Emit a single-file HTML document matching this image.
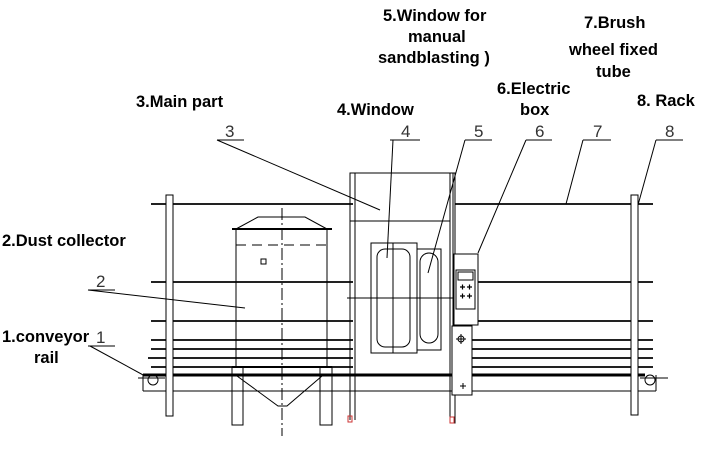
<!DOCTYPE html>
<html><head><meta charset="utf-8"><style>
html,body{margin:0;padding:0;background:#fff;}
svg{display:block;}
text{font-family:"Liberation Sans",Arial,sans-serif;font-weight:bold;font-size:16.5px;fill:#000;}
.n{font-weight:normal;font-size:17px;fill:#333;}
</style></head><body>
<svg width="721" height="453" viewBox="0 0 721 453" xmlns="http://www.w3.org/2000/svg">
<g stroke="#000" fill="none" stroke-width="1">
<g stroke="#222">
<line x1="151" y1="204" x2="353" y2="204" stroke-width="2"/>
<line x1="151" y1="282" x2="353" y2="282" stroke-width="2"/>
<line x1="151" y1="321" x2="353" y2="321" stroke-width="2"/>
<line x1="151" y1="340" x2="353" y2="340" stroke-width="2"/>
<line x1="151" y1="349" x2="353" y2="349" stroke-width="2"/>
<line x1="148" y1="358" x2="353" y2="358" stroke-width="2"/>
<line x1="151" y1="367" x2="353" y2="367" stroke-width="2"/>
<line x1="455" y1="204" x2="653" y2="204" stroke-width="2"/>
<line x1="478" y1="282" x2="653" y2="282" stroke-width="2"/>
<line x1="478" y1="321" x2="653" y2="321" stroke-width="2"/>
<line x1="472" y1="340" x2="653" y2="340" stroke-width="2"/>
<line x1="472" y1="349" x2="653" y2="349" stroke-width="2"/>
<line x1="472" y1="358" x2="653" y2="358" stroke-width="2"/>
<line x1="472" y1="367" x2="653" y2="367" stroke-width="2"/>
</g>
<line x1="143" y1="375" x2="645" y2="375" stroke-width="3"/>
<line x1="143" y1="391" x2="656" y2="391"/>
<line x1="143" y1="375" x2="143" y2="391"/>
<line x1="656" y1="375" x2="656" y2="391"/>
<circle cx="153" cy="380" r="5"/><circle cx="650" cy="380" r="5"/>
<line x1="138" y1="378" x2="165" y2="378"/><line x1="640" y1="378" x2="668" y2="378"/>
<rect x="166" y="195" width="7" height="221" fill="#fff"/>
<rect x="631" y="195" width="7" height="220" fill="#fff"/>
<polyline points="236,229 258,217 305,217 327,229"/>
<line x1="232" y1="229" x2="332" y2="229" stroke-width="2"/>
<line x1="236" y1="229" x2="236" y2="367"/>
<line x1="327" y1="229" x2="327" y2="367"/>
<line x1="236" y1="245" x2="327" y2="245" stroke-dasharray="10,6"/>
<rect x="261" y="259" width="5" height="5"/>
<line x1="232" y1="367" x2="332" y2="367" stroke-width="2"/>
<rect x="232" y="367" width="11" height="58"/>
<rect x="320" y="367" width="12" height="58"/>
<polyline points="237,376 278,406 287,406 322,376"/>
<line x1="282" y1="208" x2="282" y2="436" stroke-dasharray="12,3,2,3"/>
<rect x="350" y="173" width="103" height="218" fill="none"/>
<line x1="350" y1="221" x2="450" y2="221"/>
<line x1="450" y1="221" x2="450" y2="391"/>
<line x1="355" y1="173" x2="355" y2="420"/>
<line x1="350" y1="391" x2="350" y2="420"/>
<rect x="450" y="173" width="5" height="250"/>
<rect x="348" y="416" width="4" height="6" stroke="#c33"/>
<rect x="450" y="417" width="4" height="6" stroke="#c33"/>
<line x1="347" y1="298" x2="455" y2="298"/>
<rect x="371" y="243" width="46" height="110"/>
<rect x="377" y="249" width="33" height="98" rx="8"/>
<line x1="393" y1="243" x2="393" y2="353"/>
<rect x="417" y="249" width="24" height="101"/>
<rect x="420" y="253" width="18" height="90" rx="9"/>
<rect x="454" y="254" width="24" height="71" fill="#fff"/>
<rect x="456" y="270" width="19" height="39"/>
<rect x="458" y="272" width="15" height="8"/>
<g stroke-width="1.2">
<path d="M460 287h5M462.5 284.5v5M467 287h5M469.5 284.5v5M460 296h5M462.5 293.5v5M467 296h5M469.5 293.5v5"/>
</g>
<rect x="452" y="326" width="20" height="69" fill="#fff"/>
<circle cx="461" cy="339" r="3"/><path d="M456 339h10M461 334v10"/>
<path d="M460 386h6M463 383v6"/>
<line x1="217" y1="140" x2="244" y2="140"/><line x1="217" y1="140" x2="380" y2="210"/>
<line x1="88" y1="290" x2="115" y2="290"/><line x1="88" y1="290" x2="245" y2="308"/>
<line x1="88" y1="346" x2="115" y2="346"/><line x1="90" y1="346" x2="145" y2="376"/>
<line x1="390" y1="140" x2="420" y2="140"/><line x1="393" y1="140" x2="387" y2="258"/>
<line x1="465" y1="140" x2="492" y2="140"/><line x1="465" y1="140" x2="428" y2="273"/>
<line x1="526" y1="140" x2="552" y2="140"/><line x1="526" y1="140" x2="478" y2="253"/>
<line x1="583" y1="140" x2="611" y2="140"/><line x1="583" y1="140" x2="566" y2="204"/>
<line x1="656" y1="140" x2="683" y2="140"/><line x1="656" y1="140" x2="638" y2="205"/>
</g>
<text class="n" x="225" y="137">3</text>
<text class="n" x="96" y="287">2</text>
<text class="n" x="96" y="343">1</text>
<text class="n" x="401" y="137">4</text>
<text class="n" x="474" y="137">5</text>
<text class="n" x="535" y="137">6</text>
<text class="n" x="593" y="137">7</text>
<text class="n" x="665" y="137">8</text>
<text x="136" y="107">3.Main part</text>
<text x="2" y="246">2.Dust collector</text>
<text x="2" y="342">1.conveyor</text>
<text x="34" y="363">rail</text>
<text x="337" y="115">4.Window</text>
<text x="383" y="21">5.Window for</text>
<text x="408" y="42">manual</text>
<text x="378" y="63">sandblasting )</text>
<text x="497" y="94">6.Electric</text>
<text x="520" y="115">box</text>
<text x="584" y="28">7.Brush</text>
<text x="569" y="55">wheel fixed</text>
<text x="596" y="77">tube</text>
<text x="637" y="106">8. Rack</text>
</svg>
</body></html>
